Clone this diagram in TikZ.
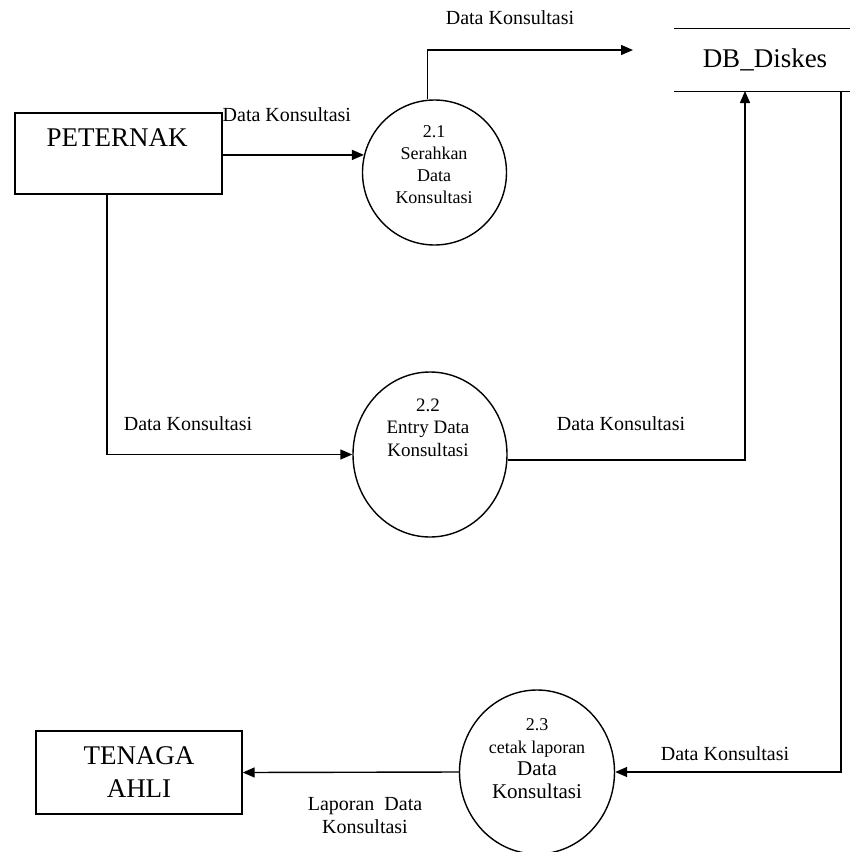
\documentclass[tikz,border=0pt]{standalone}
\usepackage{fontspec}
\setmainfont{Liberation Serif}
\usetikzlibrary{arrows.meta,shapes.geometric}
\begin{document}
\begin{tikzpicture}[x=1pt,y=-1pt,line width=1.4pt,
  entity/.style={draw, rectangle, inner sep=0pt},
  proc/.style={draw, ellipse, inner sep=0pt},
  flow/.style={-{Triangle[length=12pt,width=10pt]}},
  lbl/.style={inner sep=0pt, align=center, font=\fontsize{20}{23}\selectfont},
  big/.style={inner sep=0pt, align=center, font=\fontsize{27}{33}\selectfont}]
\useasboundingbox (0,0) rectangle (850,852);
\node[entity, minimum width=207pt, minimum height=81pt] (peternak) at (118.5,153.5){};
\node[big] (peternaktxt) at (117,138){PETERNAK};
\node[entity, big, minimum width=206pt, minimum height=83pt] (tenaga) at (139,772.5){TENAGA\\AHLI};
\node[big, minimum width=180pt, minimum height=62pt] (db) at (765,60){DB\_Diskes};
\draw (db.north west) -- (db.north east);
\draw (db.south west) -- (db.south east);
\node[proc, minimum width=144pt, minimum height=145pt] (p21) at (434.5,172.5){};
\node[inner sep=0pt, align=center, font=\fontsize{18}{22}\selectfont] (p21txt) at (434,165){2.1\\Serahkan\\Data\\Konsultasi};
\node[proc, minimum width=154pt, minimum height=165pt] (p22) at (430,454.5){};
\node[inner sep=0pt, align=center, font=\fontsize{19}{22.5}\selectfont] (p22txt) at (428,427.5){2.2\\Entry Data\\Konsultasi};
\node[proc, minimum width=155pt, minimum height=164pt] (p23) at (537,772){};
\node[inner sep=0pt, align=center, font=\fontsize{18}{22.5}\selectfont] (p23txt) at (537,758.5){2.3\\cetak laporan\\{\fontsize{21}{22.5}\selectfont Data}\\{\fontsize{21}{22.5}\selectfont Konsultasi}};
\coordinate (dbin) at (633,50);
\coordinate (db22) at (745,91);
\coordinate (db23) at (841,91);
\draw[flow] (peternak.east |- p21.166) -- (p21.166);
\draw[flow] ([xshift=-7pt]p21.north) |- (dbin);
\draw[flow] ([xshift=-11.5pt]peternak.south) |- (p22.west);
\draw[flow] (p22.-4) -| (db22);
\draw[flow] (db23) |- (p23.east);
\draw[flow] (p23.west) -- (tenaga.east);
\node[lbl] (lbltop) at (510,18){Data Konsultasi};
\node[lbl, anchor=west] (lbl21) at (222,115){Data Konsultasi};
\node[lbl] (lbl22in) at (188,424){Data Konsultasi};
\node[lbl] (lbl22out) at (621,424){Data Konsultasi};
\node[lbl] (lbl23in) at (725,754){Data Konsultasi};
\node[lbl] (lbl23out) at (365,816){Laporan\ \ Data\\Konsultasi};
\end{tikzpicture}
\end{document}
